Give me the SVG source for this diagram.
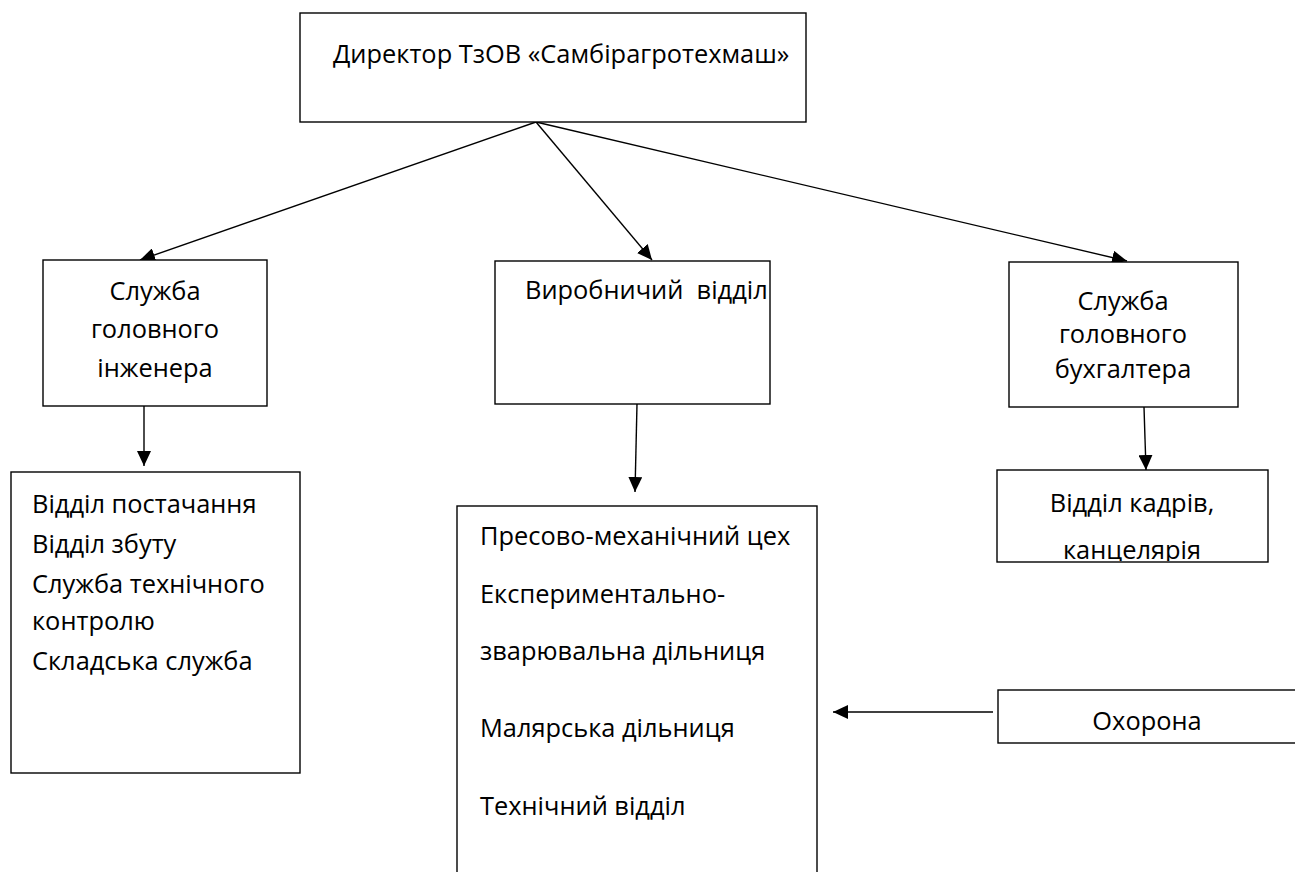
<svg xmlns="http://www.w3.org/2000/svg" width="1295" height="872" viewBox="0 0 1295 872">
<style>
.box{fill:#fff;stroke:#000;stroke-width:1.4}
.t{font-family:"Open Sans","Noto Sans","DejaVu Sans",sans-serif;font-size:25.4px;fill:#000}
.c{text-anchor:middle}
.ln{stroke:#000;stroke-width:1.4;fill:none;marker-end:url(#ah)}
</style>
<defs>
<marker id="ah" markerUnits="userSpaceOnUse" markerWidth="16" markerHeight="14" refX="15" refY="7" orient="auto">
<path d="M0,0 L15,7 L0,14 Z" fill="#000"/>
</marker>
<clipPath id="kclip"><rect x="997" y="470" width="271" height="91"/></clipPath>
</defs>
<g id="connectors">
<line class="ln" x1="536" y1="122" x2="140" y2="260"/>
<line class="ln" x1="536" y1="122" x2="652" y2="260"/>
<line class="ln" x1="536" y1="122" x2="1127" y2="261"/>
<line class="ln" x1="144" y1="406" x2="144" y2="466"/>
<line class="ln" x1="637" y1="404" x2="635" y2="492"/>
<line class="ln" x1="1144" y1="407" x2="1146" y2="470"/>
<line class="ln" x1="993" y1="712" x2="833" y2="712"/>
</g>
<g id="director">
<rect class="box" x="300" y="13" width="506" height="109"/>
<text class="t" x="333" y="63">Директор ТзОВ «Самбірагротехмаш»</text>
</g>
<g id="engineer">
<rect class="box" x="43" y="260" width="224" height="146"/>
<text class="t c" x="155" y="300">Служба</text>
<text class="t c" x="155" y="338">головного</text>
<text class="t c" x="155" y="377">інженера</text>
</g>
<g id="production">
<rect class="box" x="495" y="261" width="275" height="143"/>
<text class="t" x="525" y="299" style="white-space:pre">Виробничий  відділ</text>
</g>
<g id="accountant">
<rect class="box" x="1009" y="262" width="229" height="145"/>
<text class="t c" x="1123" y="310">Служба</text>
<text class="t c" x="1123" y="343">головного</text>
<text class="t c" x="1123" y="378">бухгалтера</text>
</g>
<g id="engineer-units">
<rect class="box" x="11" y="472" width="289" height="301"/>
<text class="t" x="32" y="513">Відділ постачання</text>
<text class="t" x="32" y="553">Відділ збуту</text>
<text class="t" x="32" y="593">Служба технічного</text>
<text class="t" x="32" y="630">контролю</text>
<text class="t" x="32" y="670">Складська служба</text>
</g>
<g id="production-units">
<rect class="box" x="457" y="506" width="360" height="380"/>
<text class="t" x="480" y="545">Пресово-механічний цех</text>
<text class="t" x="480" y="603">Експериментально-</text>
<text class="t" x="480" y="660">зварювальна дільниця</text>
<text class="t" x="480" y="737">Малярська дільниця</text>
<text class="t" x="480" y="815">Технічний відділ</text>
</g>
<g id="hr">
<rect class="box" x="997" y="470" width="271" height="92"/>
<g clip-path="url(#kclip)">
<text class="t c" x="1132" y="512">Відділ кадрів,</text>
<text class="t c" x="1132" y="559">канцелярія</text>
</g>
</g>
<g id="security">
<rect class="box" x="998" y="690" width="310" height="53"/>
<text class="t c" x="1147" y="730">Охорона</text>
</g>
</svg>
